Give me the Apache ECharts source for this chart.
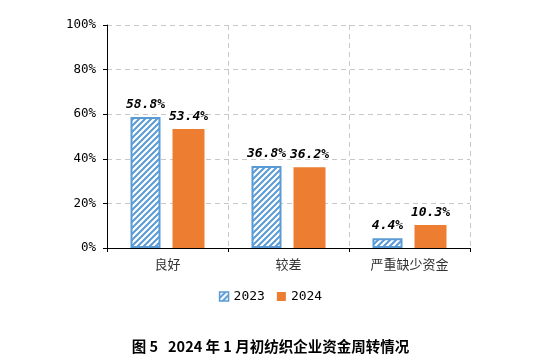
<!DOCTYPE html>
<html><head><meta charset="utf-8">
<script src="https://cdn.jsdelivr.net/npm/echarts@6/dist/echarts.min.js"></script>
<style>html,body{margin:0;padding:0;background:#fff}#c{width:541px;height:363px}</style>
</head><body><div id="c"></div>
<script>
const categories = ['良好', '较差', '严重缺少资金'];
const seriesNames = ['2023', '2024'];
const values2023 = [58.8, 36.8, 4.4];
const values2024 = [53.4, 36.2, 10.3];
const yTicks = [0, 20, 40, 60, 80, 100];

function hatch() {
  const c = document.createElement('canvas');
  c.width = 6; c.height = 6;
  const g = c.getContext('2d');
  g.fillStyle = '#fff'; g.fillRect(0, 0, 6, 6);
  g.strokeStyle = '#5B9BD5'; g.lineWidth = 2;
  g.beginPath();
  g.moveTo(-1, 7); g.lineTo(7, -1);
  g.moveTo(-4, 4); g.lineTo(4, -4);
  g.moveTo(2, 10); g.lineTo(10, 2);
  g.stroke();
  return c;
}
const pattern = { image: hatch(), repeat: 'repeat' };

const chart = echarts.init(document.getElementById('c'));
const labelStyle = {
  show: true, position: 'top', distance: 6,
  formatter: p => p.value.toFixed(1) + '%',
  fontFamily: 'DejaVu Sans Mono', fontWeight: 'bold', fontStyle: 'italic',
  fontSize: 13, color: '#000'
};
chart.setOption({
  animation: false,
  grid: { left: 107, right: 71, top: 25, bottom: 115 },
  title: {
    text: '图 5   2024 年 1 月初纺织企业资金周转情况',
    left: 'center', top: 334,
    textStyle: { fontFamily: 'Noto Sans CJK SC', fontWeight: 'bold', fontSize: 14.5, color: '#000' }
  },
  legend: {
    top: 285, left: 'center', itemWidth: 9, itemHeight: 9, itemGap: 12,
    textStyle: { fontFamily: 'DejaVu Sans Mono', fontSize: 13, color: '#000' },
    data: [
      { name: seriesNames[0], icon: 'rect', itemStyle: { color: pattern, borderColor: '#5B9BD5', borderWidth: 1.5 } },
      { name: seriesNames[1], icon: 'rect' }
    ]
  },
  xAxis: {
    type: 'category', data: categories,
    axisLine: { lineStyle: { color: '#000', width: 1 } },
    axisTick: { show: true, length: 4, lineStyle: { color: '#000' } },
    axisLabel: { fontFamily: 'Noto Sans CJK SC', fontSize: 13, color: '#333', margin: 10 },
    splitLine: { show: true, lineStyle: { type: [5, 4], color: '#c8c8c8' } }
  },
  yAxis: {
    type: 'value', min: 0, max: 100, interval: 20,
    axisLine: { show: true, lineStyle: { color: '#000', width: 1 } },
    axisTick: { show: true, length: 4, lineStyle: { color: '#000' } },
    axisLabel: { formatter: v => v + '%', fontFamily: 'DejaVu Sans Mono', fontSize: 12.5, color: '#000', margin: 11 },
    splitLine: { show: true, lineStyle: { type: [5, 4], color: '#c8c8c8' } }
  },
  series: [
    {
      name: seriesNames[0], type: 'bar', data: values2023, barWidth: 30, barGap: '40%',
      itemStyle: { color: pattern, borderColor: '#5B9BD5', borderWidth: 2 },
      label: labelStyle
    },
    {
      name: seriesNames[1], type: 'bar', data: values2024, barWidth: 32,
      itemStyle: { color: '#ED7D31' },
      label: labelStyle
    }
  ]
});
</script></body></html>
